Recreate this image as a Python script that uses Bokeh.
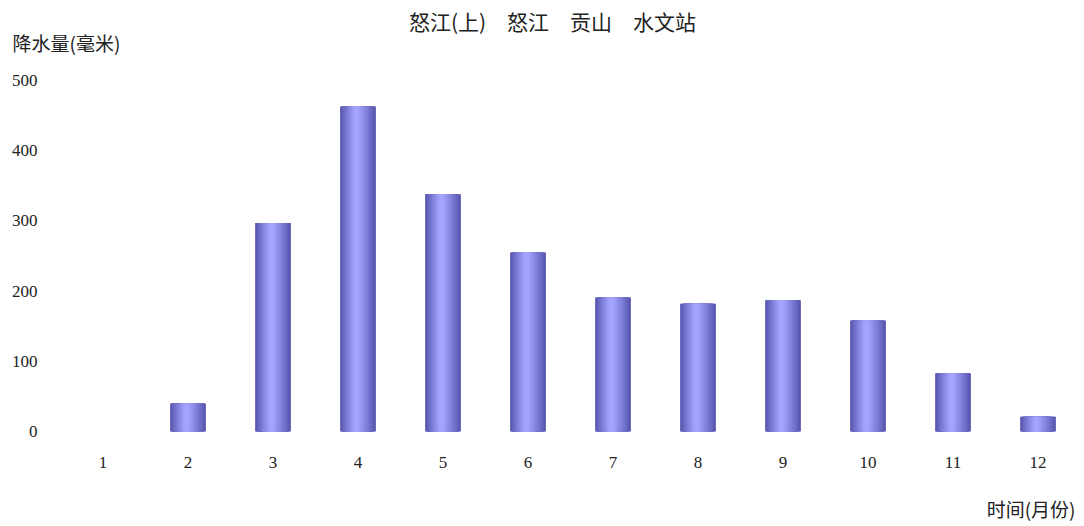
from bokeh.plotting import figure
from bokeh.models import FixedTicker, Range1d, ColumnDataSource, Label
from bokeh.transform import dodge
from bokeh.embed import file_html
from bokeh.resources import INLINE

# Monthly precipitation (mm)
months = [1, 2, 3, 4, 5, 6, 7, 8, 9, 10, 11, 12]
rain = [0, 40, 297, 463, 338, 255, 191, 182, 187, 158, 83, 21]
y_ticks = [0, 100, 200, 300, 400, 500]

TITLE = "怒江(上)\u3000怒江\u3000贡山\u3000水文站"
Y_LABEL = "降水量(毫米)"
X_LABEL = "时间(月份)"

CJK = "Noto Sans CJK SC"
SERIF = "Liberation Serif"
TXT = "#222222"

# the frame fills the whole canvas; axes are pinned inside it
p = figure(width=1084, height=526, output_backend="svg", toolbar_location=None,
           x_range=Range1d(-0.206, 12.547), y_range=Range1d(-135.3, 614.0),
           min_border=0, min_border_left=0, min_border_right=0,
           min_border_top=0, min_border_bottom=0, title=None)
p.background_fill_color = "white"
p.border_fill_color = "white"
p.outline_line_color = None
p.grid.visible = False

src = ColumnDataSource(dict(month=months, rain=rain))

# cylinder shading: nested bars growing lighter toward the highlight line
bar_w = 0.42
peak = 0.45
n = 20
dark = (84, 84, 174)
light = (164, 164, 255)
for i in range(n):
    f = i / (n - 1)
    shrink = 1 - (i / n) ** 0.9 * 0.92 if i else 1.0
    left = peak * bar_w * shrink
    right = (1 - peak) * bar_w * shrink
    w = left + right
    center = -bar_w / 2 + peak * bar_w + (right - left) / 2
    c = tuple(int(dark[k] + (light[k] - dark[k]) * (f ** 0.8)) for k in range(3))
    col = "#%02x%02x%02x" % c
    p.vbar(x=dodge("month", center), top="rain", bottom=0, width=w,
           source=src, fill_color=col, line_color=None)

p.xaxis.ticker = FixedTicker(ticks=months)
p.yaxis.ticker = FixedTicker(ticks=y_ticks)
p.xaxis.fixed_location = 0
p.yaxis.fixed_location = 0.5
for ax in (p.xaxis, p.yaxis):
    ax.axis_line_color = None
    ax.major_tick_line_color = None
    ax.minor_tick_line_color = None
    ax.major_label_text_font = SERIF
    ax.major_label_text_font_size = "17px"
    ax.major_label_text_color = TXT
p.xaxis.major_label_standoff = 19
p.yaxis.major_label_standoff = 17

# chart title and axis captions
p.add_layout(Label(x=6.288, y=585.5, text=TITLE, text_font=CJK, text_font_size="21px",
                   text_align="center", text_baseline="middle", text_color=TXT))
p.add_layout(Label(x=-0.065, y=554, text=Y_LABEL, text_font=CJK, text_font_size="19px",
                   text_align="left", text_baseline="middle", text_color=TXT))
p.add_layout(Label(x=12.441, y=-109.6, text=X_LABEL, text_font=CJK, text_font_size="19px",
                   text_align="right", text_baseline="middle", text_color=TXT))

open("out.html", "w").write(file_html(p, INLINE))
